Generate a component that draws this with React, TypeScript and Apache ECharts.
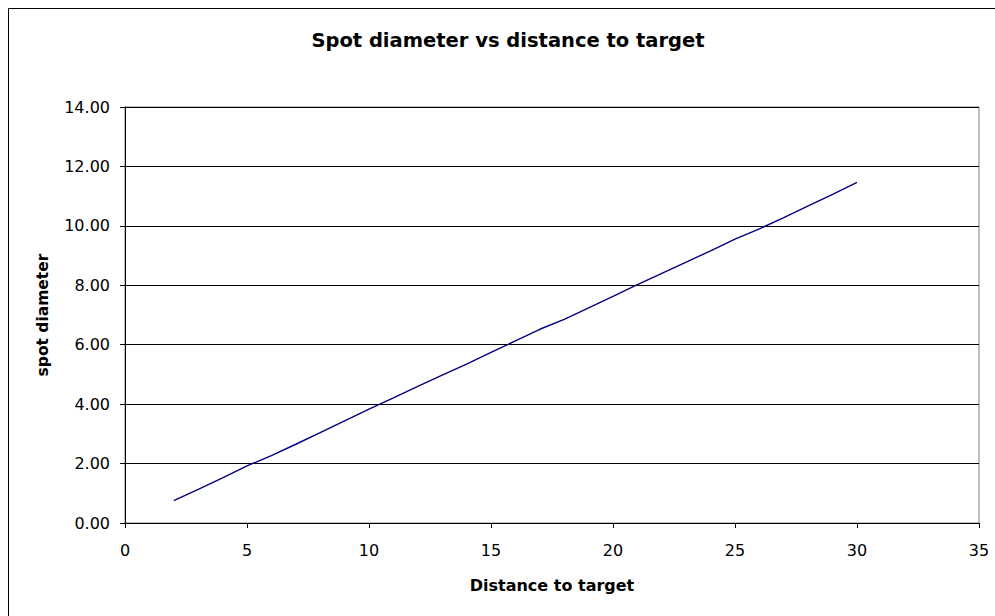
import React, { useEffect, useRef } from "react";
import * as echarts from "echarts";

const chartTitle = "Spot diameter vs distance to target";
const xAxisName = "Distance to target";
const yAxisName = "spot diameter";

const distance = [2, 3, 4, 5, 6, 7, 8, 9, 10, 11, 12, 13, 14, 15, 16, 17, 18, 19, 20, 21, 22, 23, 24, 25, 26, 27, 28, 29, 30];
const spotDiameter = [
  0.75, 1.13, 1.52, 1.92, 2.27, 2.65, 3.04, 3.44, 3.83, 4.21, 4.6, 4.98, 5.35, 5.74, 6.13,
  6.52, 6.85, 7.24, 7.63, 8.02, 8.4, 8.78, 9.16, 9.55, 9.9, 10.28, 10.67, 11.06, 11.46,
];

const FONT = "'DejaVu Sans', 'Liberation Sans', Arial, sans-serif";

export default function App() {
  const ref = useRef<HTMLDivElement>(null);

  useEffect(() => {
    document.body.style.margin = "0";
    if (!ref.current) return;
    const chart = echarts.init(ref.current, undefined, { renderer: "svg" });
    const points = distance.map((d, i) => [d, spotDiameter[i]]);
    chart.setOption({
      animation: false,
      backgroundColor: "#ffffff",
      textStyle: { fontFamily: FONT },
      title: {
        text: chartTitle,
        left: 503,
        top: 25,
        textAlign: "center",
        textStyle: { fontFamily: FONT, fontSize: 19.5, fontWeight: "bold", color: "#000" },
      },
      graphic: [
        {
          type: "rect",
          z: -1,
          silent: true,
          shape: { x: 8.5, y: 8.5, width: 1100, height: 1000 },
          style: { fill: "none", stroke: "#000", lineWidth: 1 },
        },
      ],
      grid: {
        left: 125,
        right: 16,
        top: 107,
        bottom: 93,
        show: true,
        borderColor: "#808080",
        borderWidth: 1,
        backgroundColor: "#fff",
      },
      xAxis: {
        type: "value",
        min: 0,
        max: 35,
        interval: 5,
        name: xAxisName,
        nameLocation: "middle",
        nameGap: 54,
        nameTextStyle: { fontFamily: FONT, fontSize: 16, fontWeight: "bold", color: "#000" },
        axisLine: { show: true, onZero: false, lineStyle: { color: "#000", width: 1 } },
        axisTick: { show: true, inside: false, length: 5, lineStyle: { color: "#000" } },
        axisLabel: { margin: 19, fontFamily: FONT, fontSize: 16, color: "#000" },
        splitLine: { show: false },
      },
      yAxis: {
        type: "value",
        min: 0,
        max: 14,
        interval: 2,
        name: yAxisName,
        nameLocation: "middle",
        nameGap: 74,
        nameRotate: 90,
        nameTextStyle: { fontFamily: FONT, fontSize: 15.5, fontWeight: "bold", color: "#000" },
        axisLine: { show: true, lineStyle: { color: "#000", width: 1 } },
        axisTick: { show: true, inside: false, length: 5, lineStyle: { color: "#000" } },
        axisLabel: {
          margin: 15,
          fontFamily: FONT,
          fontSize: 16,
          color: "#000",
          formatter: (v: number) => v.toFixed(2),
        },
        splitLine: { show: true, lineStyle: { color: "#000", width: 1 } },
      },
      series: [
        {
          type: "line",
          data: points,
          showSymbol: false,
          symbol: "none",
          lineStyle: { color: "#000080", width: 1.4 },
          itemStyle: { color: "#000080" },
        },
      ],
    });
    return () => chart.dispose();
  }, []);

  return (
    <div
      ref={ref}
      style={{ position: "absolute", left: 0, top: 0, width: 995, height: 616 }}
    />
  );
}
